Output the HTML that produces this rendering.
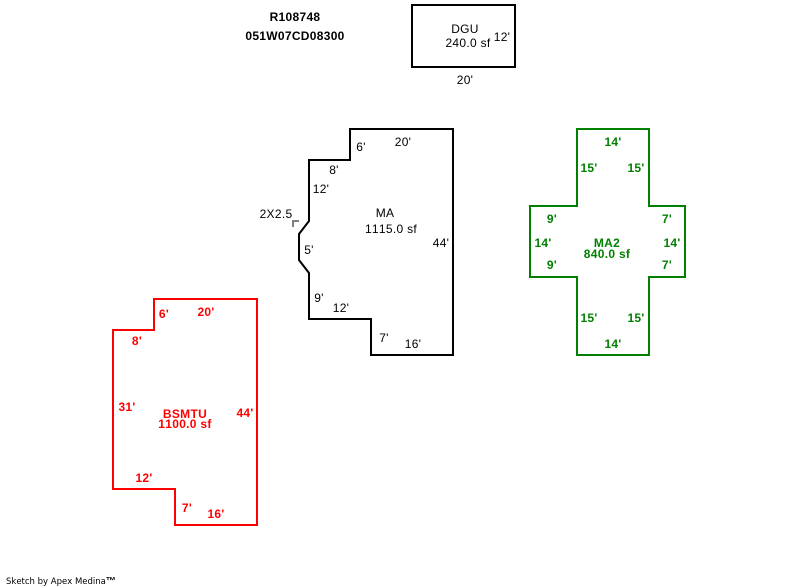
<!DOCTYPE html>
<html><head><meta charset="utf-8"><style>
html,body{margin:0;padding:0;background:#fff}
svg{display:block}
text{font-family:"Liberation Sans",Arial,sans-serif;font-size:12px;text-anchor:middle;letter-spacing:.3px;font-kerning:none}
.k{fill:#000}
.g{fill:#008000;font-weight:bold}
.r{fill:#f00;font-weight:bold}
.b{font-weight:bold;fill:#000}
path,rect{fill:none;stroke-width:2}
</style></head><body>
<svg width="800" height="587" viewBox="0 0 800 587" xmlns="http://www.w3.org/2000/svg">
<rect x="412" y="5" width="103" height="62" stroke="#000"/>
<path d="M350 129H453V355H371V319H309V273L299 260V234L309 221V160H350Z" stroke="#000"/>
<path d="M577 129H649V206H685V277H649V355H577V277H530V206H577Z" stroke="#008000"/>
<path d="M154 299H257V525H175V489H113V330H154Z" stroke="#f00"/>
<path d="M293 227V221H299" stroke="#808080" stroke-width="2"/>

<text class="b" x="295" y="21">R108748</text>
<text class="b" x="295" y="40">051W07CD08300</text>

<text class="k" x="465" y="33">DGU</text>
<text class="k" x="468" y="47">240.0 sf</text>
<text class="k" x="502" y="41">12'</text>
<text class="k" x="465" y="84">20'</text>

<text class="k" x="361" y="151">6'</text>
<text class="k" x="403" y="146">20'</text>
<text class="k" x="334" y="174">8'</text>
<text class="k" x="321" y="193">12'</text>
<text class="k" x="276" y="218">2X2.5</text>
<text class="k" x="385" y="217">MA</text>
<text class="k" x="391" y="233">1115.0 sf</text>
<text class="k" x="441" y="247">44'</text>
<text class="k" x="309" y="254">5'</text>
<text class="k" x="319" y="302">9'</text>
<text class="k" x="341" y="312">12'</text>
<text class="k" x="384" y="342">7'</text>
<text class="k" x="413" y="348">16'</text>

<text class="g" x="613" y="146">14'</text>
<text class="g" x="589" y="172">15'</text>
<text class="g" x="636" y="172">15'</text>
<text class="g" x="552" y="223">9'</text>
<text class="g" x="667" y="223">7'</text>
<text class="g" x="543" y="247">14'</text>
<text class="g" x="672" y="247">14'</text>
<text class="g" x="607" y="247">MA2</text>
<text class="g" x="607" y="258">840.0 sf</text>
<text class="g" x="552" y="269">9'</text>
<text class="g" x="667" y="269">7'</text>
<text class="g" x="589" y="322">15'</text>
<text class="g" x="636" y="322">15'</text>
<text class="g" x="613" y="348">14'</text>

<text class="r" x="164" y="318">6'</text>
<text class="r" x="206" y="316">20'</text>
<text class="r" x="137" y="345">8'</text>
<text class="r" x="127" y="411">31'</text>
<text class="r" x="185" y="418">BSMTU</text>
<text class="r" x="185" y="428">1100.0 sf</text>
<text class="r" x="245" y="417">44'</text>
<text class="r" x="144" y="482">12'</text>
<text class="r" x="187" y="512">7'</text>
<text class="r" x="216" y="518">16'</text>

<text x="6" y="584" style="font-family:'DejaVu Sans',sans-serif;font-size:8.5px;letter-spacing:0;text-anchor:start;fill:#000">Sketch by Apex Medina<tspan style="font-family:'Liberation Sans',sans-serif;font-size:10px;font-weight:bold">™</tspan></text>
</svg>
</body></html>
